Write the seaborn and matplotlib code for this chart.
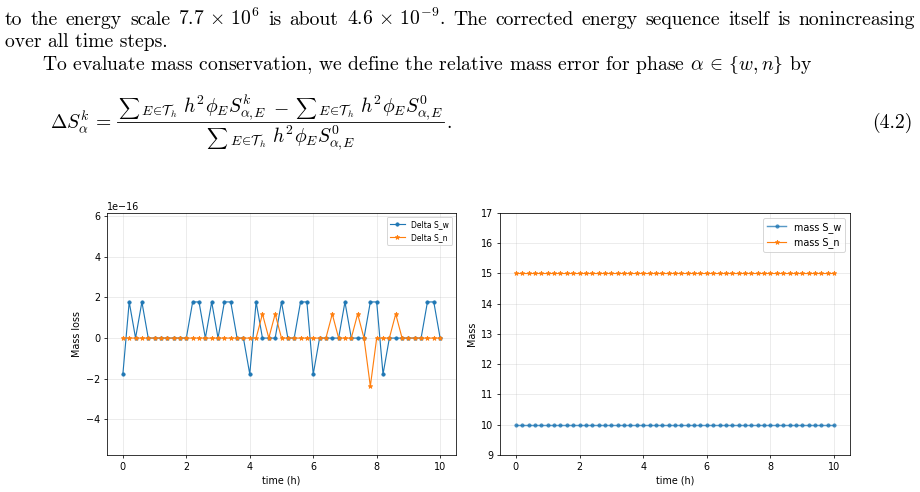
import numpy as np
import pandas as pd
import matplotlib
matplotlib.use("Agg")
import matplotlib.pyplot as plt
from matplotlib.lines import Line2D
import seaborn as sns

# ---------------- data ----------------
time_h = [0.0, 0.2, 0.4, 0.6, 0.8, 1.0, 1.2, 1.4, 1.6, 1.8,
          2.0, 2.2, 2.4, 2.6, 2.8, 3.0, 3.2, 3.4, 3.6, 3.8,
          4.0, 4.2, 4.4, 4.6, 4.8, 5.0, 5.2, 5.4, 5.6, 5.8,
          6.0, 6.2, 6.4, 6.6, 6.8, 7.0, 7.2, 7.4, 7.6, 7.8,
          8.0, 8.2, 8.4, 8.6, 8.8, 9.0, 9.2, 9.4, 9.6, 9.8, 10.0]

# relative mass errors, in units of 1e-16
delta_w_e16 = [-1.776, 1.776, 0, 1.776, 0, 0, 0, 0, 0, 0,
               0, 1.776, 1.776, 0, 1.776, 0, 1.776, 1.776, 0, 0,
               -1.776, 1.776, 0, 0, 0, 1.776, 0, 0, 1.776, 1.776,
               -1.776, 0, 0, 0, 0, 1.776, 0, 0, 0, 1.776,
               1.776, -1.776, 0, 0, 0, 0, 0, 0, 1.776, 1.776, 0]
delta_n_e16 = [0, 0, 0, 0, 0, 0, 0, 0, 0, 0,
               0, 0, 0, 0, 0, 0, 0, 0, 0, 0,
               0, 0, 1.184, 0, 1.184, 0, 0, 0, 0, 0,
               0, 0, 0, 1.184, 0, 0, 0, 1.184, 0, -2.368,
               0, 0, 0, 1.184, 0, 0, 0, 0, 0, 0, 0]

mass_w = [10.0] * 51
mass_n = [15.0] * 51

left_ticks_x = [0, 2, 4, 6, 8, 10]
left_ticks_y = [-4, -2, 0, 2, 4, 6]
right_ticks_y = [9, 10, 11, 12, 13, 14, 15, 16, 17]

BLUE = "#1f77b4"
ORANGE = "#ff7f0e"

# ---------------- figure ----------------
DPI = 69
W, H = 920, 492
fig = plt.figure(figsize=(W / DPI, H / DPI), dpi=DPI)
fig.patch.set_facecolor("white")

plt.rcParams["mathtext.fontset"] = "cm"

def px(x, y):
    return x / W, 1 - y / H

def add_ax(l, t, r, b):
    return fig.add_axes([l / W, 1 - b / H, (r - l) / W, (b - t) / H])

ax1 = add_ax(107, 213, 456, 455)
ax2 = add_ax(500, 213, 850, 455)

df = pd.DataFrame({
    "time": time_h,
    "dw": np.array(delta_w_e16) * 1e-16,
    "dn": np.array(delta_n_e16) * 1e-16,
    "mw": mass_w,
    "mn": mass_n,
})

sns.lineplot(data=df, x="time", y="dw", ax=ax1, color=BLUE, marker=".",
             markersize=7, mec=BLUE, mew=0.8, linewidth=1.2, label="Delta S_w")
sns.lineplot(data=df, x="time", y="dn", ax=ax1, color=ORANGE, marker="*",
             markersize=5, mec=ORANGE, mew=0.8, linewidth=1.2, label="Delta S_n")
ax1.set_xlim(-0.5, 10.5)
ax1.set_ylim(-5.75e-16, 6.15e-16)
ax1.set_xticks(left_ticks_x)
ax1.set_yticks(np.array(left_ticks_y) * 1e-16)
ax1.set_xlabel("time (h)")
ax1.set_ylabel("Mass loss")
ax1.grid(True, alpha=0.3)
ax1.legend(loc="upper right", fontsize=8)

sns.lineplot(data=df, x="time", y="mw", ax=ax2, color=BLUE, marker=".",
             markersize=7, mec=BLUE, mew=0.8, linewidth=1.5, alpha=0.75,
             label="mass S_w")
sns.lineplot(data=df, x="time", y="mn", ax=ax2, color=ORANGE, marker="*",
             markersize=5, mec=ORANGE, mew=0.8, linewidth=1.2, label="mass S_n")
ax2.set_xlim(-0.5, 10.5)
ax2.set_ylim(9, 17)
ax2.set_xticks(left_ticks_x)
ax2.set_yticks(right_ticks_y)
ax2.set_xlabel("time (h)")
ax2.set_ylabel("Mass")
ax2.grid(True, alpha=0.3)
ax2.legend(loc="upper right")

# ---------------- paper text ----------------
FS = 20.5
renderer = fig.canvas.get_renderer()

def mk(s, size=FS):
    return fig.text(0, 0, s, ha="left", va="baseline", family="cmr10", fontsize=size)

def width(t):
    return t.get_window_extent(renderer).width

# line 1, justified
words1 = ["to", "the", "energy", "scale", r"$7.7\,\times\,10^6$", "is", "about",
          r"$4.6\,\times\,10^{-9}$.", "The", "corrected", "energy", "sequence",
          "itself", "is", "nonincreasing"]
texts = [mk(w) for w in words1]
widths = [width(t) for t in texts]
x0, x1 = 5, 915
gap = (x1 - x0 - sum(widths)) / (len(words1) - 1)
xc = x0
for t, wd in zip(texts, widths):
    t.set_position(px(xc, 25))
    xc += wd + gap

t = mk("over all time steps.")
t.set_position(px(5, 47))
t = mk(r"To evaluate mass conservation, we define the relative mass error for phase $\alpha\,\in\,\lbrace w,n\rbrace$ by")
t.set_position(px(42, 70))

# ---- equation (4.2), composed from pieces ----
def sequence(pieces):
    """pieces: (string, size, dy, gap_after). Returns objects, offsets, total width."""
    objs, offs = [], []
    xc = 0.0
    for s, size, dy, g in pieces:
        o = mk(s, size)
        objs.append((o, dy))
        offs.append(xc)
        xc += width(o) + g
    return objs, offs, xc - pieces[-1][3]

def place(seq, x, yb):
    objs, offs, _ = seq
    for (o, dy), off in zip(objs, offs):
        o.set_position(px(x + off, yb + dy))

SUMS = FS * 0.74
sum_piece = [(r"$\sum$", SUMS, 1.5, 1.0),
             (r"${}_{E\!\in\!\mathcal{T}_h}$", FS, 0, 6.0)]
num = sequence(sum_piece + [(r"$h^2\phi_E S^k_{\alpha,\!E}$", FS, 0, 6.5),
                            (r"$-$", FS, 0, 6.5)]
               + sum_piece + [(r"$h^2\phi_E S^0_{\alpha,\!E}$", FS, 0, 0.0)])
den = sequence(sum_piece + [(r"$h^2\phi_E S^0_{\alpha,\!E}$", FS, 0, 0.0)])

lhs = mk(r"$\Delta S^k_\alpha\, =$")
lhs.set_position(px(50, 128))

bar_l = 117
frac_w = max(num[2], den[2]) + 2
center = bar_l + frac_w / 2
place(num, center - num[2] / 2, 112)
place(den, center - den[2] / 2, 142)
fig.add_artist(Line2D([bar_l / W, (bar_l + frac_w) / W], [1 - 121.5 / H, 1 - 121.5 / H],
                      transform=fig.transFigure, color="black", lw=0.9))
dot = mk(".")
dot.set_position(px(bar_l + frac_w + 2, 128))

t = fig.text(*px(913, 128), "(4.2)", ha="right", va="baseline", family="cmr10", fontsize=FS)

fig.savefig("out.png", dpi=DPI, facecolor="white")
